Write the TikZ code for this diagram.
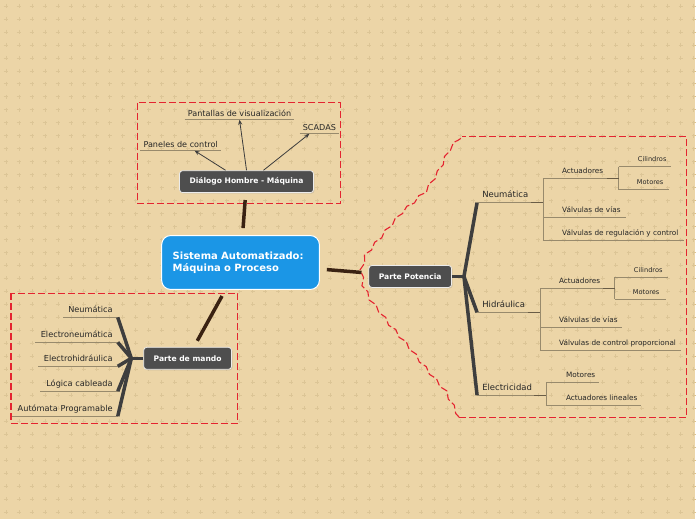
\documentclass[tikz,border=0pt]{standalone}
\usepackage{fontspec}
\setmainfont{DejaVu Sans}
\usetikzlibrary{positioning, arrows.meta, calc, shadows, decorations.pathmorphing}
\definecolor{paper-bg}{RGB}{236,213,167}
\definecolor{paper-plus}{RGB}{220,197,150}
\definecolor{root-blue}{RGB}{27,150,230}
\definecolor{topic-gray}{RGB}{78,78,78}
\definecolor{trunk-brown}{RGB}{58,34,18}
\definecolor{branch-gray}{RGB}{62,62,62}
\definecolor{line-tan}{RGB}{152,138,108}
\definecolor{line-dark}{RGB}{105,92,70}
\definecolor{arrow-gray}{RGB}{60,60,60}
\definecolor{label-ink}{RGB}{38,38,38}
\definecolor{frame-red}{RGB}{228,36,48}

\tikzset{
  root/.style={fill=root-blue, draw=white, line width=1pt, rounded corners=9pt, text=white,
    font=\fontsize{10}{12}\selectfont\bfseries, align=left, text width=136pt, inner xsep=11pt,
    minimum height=54pt},
  topic/.style={fill=topic-gray, draw=white!85!gray, line width=0.8pt, rounded corners=3pt, text=white,
    font=\fontsize{7.6}{9}\selectfont\bfseries, inner xsep=10pt, minimum height=22pt,
    drop shadow={opacity=0.25, shadow xshift=1pt, shadow yshift=-1pt}},
  trunk/.style={trunk-brown, line width=3.5pt, shorten <=7pt, shorten >=7pt},
  branch/.style={branch-gray, line width=3.5pt},
  uline/.style={line-tan, line width=0.9pt},
  joint/.style={line-dark, line width=1.2pt},
  pointer/.style={-{Stealth[length=5pt, width=4pt]}, arrow-gray, line width=0.8pt},
  hint/.style={font=\fontsize{8.1}{9}\selectfont, text=label-ink, inner xsep=3pt, inner ysep=3pt},
  item/.style={font=\fontsize{8.2}{9}\selectfont, text=label-ink, inner sep=0pt, anchor=base east},
  sub/.style={font=\fontsize{8.5}{10}\selectfont, text=label-ink, inner sep=0pt, anchor=base west},
  leaf/.style={font=\fontsize{7.3}{8}\selectfont, text=label-ink, inner sep=0pt, anchor=base west},
  twig/.style={font=\fontsize{6.6}{7}\selectfont, text=label-ink, inner sep=0pt, anchor=base west},
  frame/.style={frame-red, line width=1.1pt, dash pattern=on 7pt off 3pt},
}

\begin{document}
\begin{tikzpicture}[x=1pt, y=-1pt]
    % Paper background with faint plus grid
    \fill[paper-bg] (0,0) rectangle (696,520);
    \foreach \gx in {6,19,...,696} {
      \foreach \gy in {6,19,...,520} {
        \draw[paper-plus, line width=0.7pt] (\gx-2,\gy) -- (\gx+2,\gy) (\gx,\gy-2) -- (\gx,\gy+2);
      }
    }
    \useasboundingbox (0,0) rectangle (696,520);

    % Boundaries
    \draw[frame] (138,103) rectangle (341,204);
    \draw[frame] (11,294) rectangle (238,424);
    \draw[frame] (460,418) -- (688,418) -- (688,137) -- (463,137);
    \draw[frame, decorate, decoration={snake, amplitude=1.3pt, segment length=16pt}]
      (460,418) -- (447,393) -- (430,373) -- (410,348) -- (390,325) -- (373,303)
      -- (365,287) -- (363,270) -- (367,256) -- (382,238) -- (400,217) -- (427,193)
      -- (440,173) -- (450,153) -- (463,137);

    % Main topics
    \node[root] (root) at (241,263) {Sistema Automatizado:\\Máquina o Proceso};
    \node[topic] (dlg) at (247,182) {Diálogo Hombre - Máquina};
    \node[topic] (mando) at (188,359) {Parte de mando};
    \node[topic] (pot) at (411,277) {Parte Potencia};

    \draw[trunk] (root) -- (dlg);
    \draw[trunk] (root) -- (mando);
    \draw[trunk] (root) -- (pot);

    % Diálogo Hombre - Máquina
    \node[hint, anchor=south] (panel) at (181,151) {Paneles de control};
    \node[hint, anchor=south] (pant) at (240,120) {Pantallas de visualización};
    \node[hint, anchor=south] (scada) at (320,134) {SCADAS};
    \draw[uline] (panel.south west) -- (panel.south east);
    \draw[uline] (pant.south west) -- (pant.south east);
    \draw[uline] (scada.south west) -- (scada.south east);
    \draw[pointer] ([xshift=-21pt]dlg.north) -- ([xshift=14pt]panel.south);
    \draw[pointer] (dlg.north) -- (pant.south);
    \draw[pointer] ([xshift=17pt]dlg.north) -- ([xshift=-10pt]scada.south);

    % Parte de mando
    \coordinate (mj) at ($(mando.west)+(-12,0)$);
    \coordinate (m1) at (118,318);
    \coordinate (m2) at (118,343);
    \coordinate (m3) at (118,367);
    \coordinate (m4) at (118,392);
    \coordinate (m5) at (118,417);
    \node[item] (m1-t) at ($(m1)+(-5,-5)$) {Neumática};
    \node[item] (m2-t) at ($(m2)+(-5,-5)$) {Electroneumática};
    \node[item] (m3-t) at ($(m3)+(-5,-5)$) {Electrohidráulica};
    \node[item] (m4-t) at ($(m4)+(-5,-5)$) {Lógica cableada};
    \node[item] (m5-t) at ($(m5)+(-5,-5)$) {Autómata Programable};
    \draw[uline] (m1) -- ++(-55,0);
    \draw[uline] (m2) -- ++(-83,0);
    \draw[uline] (m3) -- ++(-80,0);
    \draw[uline] (m4) -- ++(-78,0);
    \draw[uline] (m5) -- ++(-106,0);
    \draw[branch] (mando.west) -- (mj);
    \draw[branch] (mj) -- (m1);
    \draw[branch] (mj) -- (m2);
    \draw[branch] (mj) -- (m3);
    \draw[branch] (mj) -- (m4);
    \draw[branch] (mj) -- (m5);

    % Parte Potencia
    \coordinate (pj) at ($(pot.east)+(12,0)$);
    \coordinate (pn) at (478,203);
    \coordinate (ph) at (478,313);
    \coordinate (pe) at (478,396);
    \draw[branch] (pot.east) -- (pj);
    \draw[branch] (pj) -- (pn);
    \draw[branch] (pj) -- (ph);
    \draw[branch] (pj) -- (pe);
    \node[sub] (pn-t) at ($(pn)+(5,-5)$) {Neumática};
    \node[sub] (ph-t) at ($(ph)+(5,-5)$) {Hidráulica};
    \node[sub] (pe-t) at ($(pe)+(5,-5)$) {Electricidad};

    % Neumática
    \coordinate (na) at (544,179);
    \coordinate (nv) at (544,218);
    \coordinate (nr) at (544,241);
    \coordinate (nc) at (620,167);
    \coordinate (nm) at (620,190);
    \node[leaf] (na-t) at ($(na)+(19,-5)$) {Actuadores};
    \node[leaf] (nv-t) at ($(nv)+(19,-5)$) {Válvulas de vías};
    \node[leaf] (nr-t) at ($(nr)+(19,-5)$) {Válvulas de regulación y control};
    \node[twig] (nc-t) at ($(nc)+(19,-5)$) {Cilindros};
    \node[twig] (nm-t) at ($(nm)+(18,-5)$) {Motores};
    \draw[uline] (pn) -- (pn -| na);
    \draw[uline] (na) -- (nr);
    \draw[uline] (na) -- (na -| nc);
    \draw[uline] (nv) -- ++(83,0);
    \draw[uline] (nr) -- ++(141,0);
    \draw[uline] (nc) -- (nm);
    \draw[uline] (nc) -- ++(52,0);
    \draw[uline] (nm) -- ++(50,0);
    \draw[joint] ($(pn -| na)+(-12,0)$) -- (pn -| na);
    \draw[joint] ($(na -| nc)+(-12,0)$) -- (na -| nc);

    % Hidráulica
    \coordinate (ha) at (541,289);
    \coordinate (hv) at (541,328);
    \coordinate (hp) at (541,351);
    \coordinate (hc) at (616,278);
    \coordinate (hm) at (616,300);
    \node[leaf] (ha-t) at ($(ha)+(19,-5)$) {Actuadores};
    \node[leaf] (hv-t) at ($(hv)+(19,-5)$) {Válvulas de vías};
    \node[leaf] (hp-t) at ($(hp)+(19,-5)$) {Válvulas de control proporcional};
    \node[twig] (hc-t) at ($(hc)+(19,-5)$) {Cilindros};
    \node[twig] (hm-t) at ($(hm)+(18,-5)$) {Motores};
    \draw[uline] (ph) -- (ph -| ha);
    \draw[uline] (ha) -- (hp);
    \draw[uline] (ha) -- (ha -| hc);
    \draw[uline] (hv) -- ++(82,0);
    \draw[uline] (hp) -- ++(141,0);
    \draw[uline] (hc) -- (hm);
    \draw[uline] (hc) -- ++(53,0);
    \draw[uline] (hm) -- ++(51,0);
    \draw[joint] ($(ph -| ha)+(-12,0)$) -- (ph -| ha);
    \draw[joint] ($(ha -| hc)+(-12,0)$) -- (ha -| hc);

    % Electricidad
    \coordinate (em) at (547,383);
    \coordinate (el) at (547,406);
    \node[leaf] (em-t) at ($(em)+(20,-5)$) {Motores};
    \node[leaf] (el-t) at ($(el)+(20,-5)$) {Actuadores lineales};
    \draw[uline] (pe) -- (pe -| em);
    \draw[uline] (em) -- (el);
    \draw[uline] (em) -- ++(53,0);
    \draw[uline] (el) -- ++(95,0);
    \draw[joint] ($(pe -| em)+(-12,0)$) -- (pe -| em);
\end{tikzpicture}
\end{document}
